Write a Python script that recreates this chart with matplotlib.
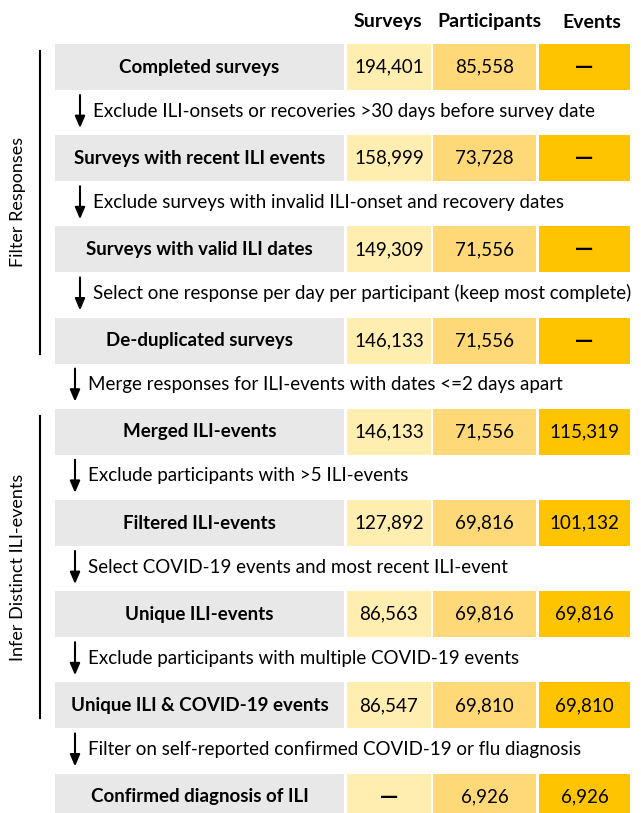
import matplotlib.pyplot as plt
from matplotlib.patches import Rectangle

plt.rcParams['font.family'] = ['Lato', 'DejaVu Sans']

headers = ["Surveys", "Participants", "Events"]
stages = ["Completed surveys", "Surveys with recent ILI events", "Surveys with valid ILI dates",
          "De-duplicated surveys", "Merged ILI-events", "Filtered ILI-events",
          "Unique ILI-events", "Unique ILI & COVID-19 events", "Confirmed diagnosis of ILI"]
surveys = ["194,401", "158,999", "149,309", "146,133", "146,133", "127,892", "86,563", "86,547", "—"]
participants = ["85,558", "73,728", "71,556", "71,556", "71,556", "69,816", "69,816", "69,810", "6,926"]
events = ["—", "—", "—", "—", "115,319", "101,132", "69,816", "69,810", "6,926"]
steps = ["Exclude ILI-onsets or recoveries >30 days before survey date",
         "Exclude surveys with invalid ILI-onset and recovery dates",
         "Select one response per day per participant (keep most complete)",
         "Merge responses for ILI-events with dates <=2 days apart",
         "Exclude participants with >5 ILI-events",
         "Select COVID-19 events and most recent ILI-event",
         "Exclude participants with multiple COVID-19 events",
         "Filter on self-reported confirmed COVID-19 or flu diagnosis"]
groups = [("Filter Responses", 0, 3), ("Infer Distinct ILI-events", 4, 7)]

W, H = 641, 813
fig = plt.figure(figsize=(W / 100, H / 100), dpi=100)
ax = fig.add_axes([0, 0, 1, 1])
ax.set_xlim(0, W)
ax.set_ylim(H, 0)
ax.axis('off')

# columns: (left, right, colour)
cols = [(55, 344, '#e8e8e8'), (347, 431, '#ffeeb0'), (433, 536, '#ffd978'), (539, 630, '#ffc400')]
top0, step, rh = 44, 91.2, 46
head_x = [388, 489, 592]

for hx, h in zip(head_x, headers):
    ax.text(hx, 22, h, ha='center', va='center', fontsize=14, fontweight='bold')

for i, name in enumerate(stages):
    top = top0 + i * step
    cy = top + rh / 2
    for (l, r, c) in cols:
        ax.add_patch(Rectangle((l, top), r - l, rh, facecolor=c, edgecolor='none'))
    ax.text((cols[0][0] + cols[0][1]) / 2, cy, name, ha='center', va='center',
            fontsize=13.5, fontweight='bold')
    for (l, r, c), val in zip(cols[1:], [surveys[i], participants[i], events[i]]):
        if val == "—":
            ax.text((l + r) / 2, cy, val, ha='center', va='center', fontsize=13,
                    fontweight='bold', family='DejaVu Sans')
        else:
            ax.text((l + r) / 2, cy, val, ha='center', va='center', fontsize=13.5)

for i, s in enumerate(steps):
    y0 = top0 + i * step + rh
    ax_x = 80 if i < 3 else 75
    ax.annotate('', xy=(ax_x, y0 + 38), xytext=(ax_x, y0 + 5),
                arrowprops=dict(arrowstyle='-|>,head_width=0.3,head_length=0.7',
                                lw=1.5, color='black', shrinkA=0, shrinkB=0))
    ax.text(ax_x + 13, y0 + 21, s, ha='left', va='center', fontsize=13.5)

for label, a, b in groups:
    y_a = top0 + a * step + 7
    y_b = top0 + b * step + rh - 10
    ax.plot([39.5, 39.5], [y_a, y_b], color='black', lw=1.5)
    ax.text(18, (y_a + y_b) / 2, label, rotation=90, ha='center', va='center', fontsize=13)

fig.savefig('out.png', dpi=100)
